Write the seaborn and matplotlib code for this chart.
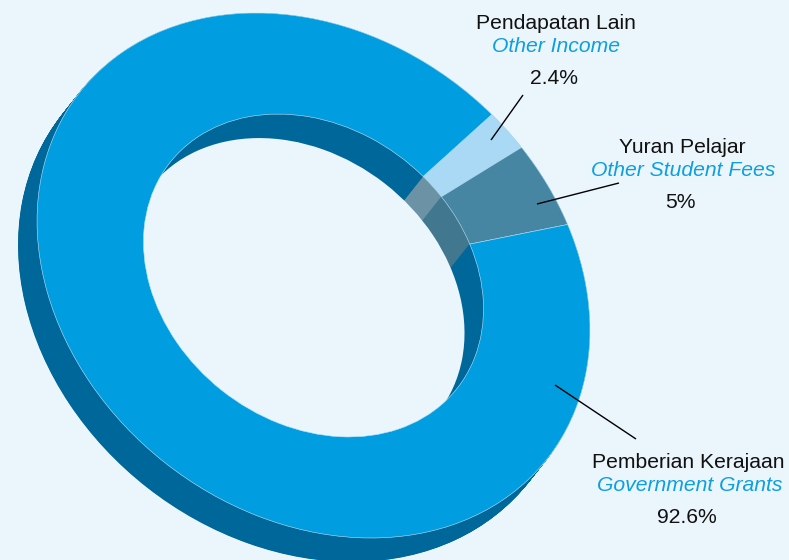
import numpy as np
import matplotlib
matplotlib.use("Agg")
import matplotlib.pyplot as plt
from matplotlib.transforms import Affine2D
from matplotlib.patches import Circle
import seaborn as sns

# data
labels_ms = ["Pendapatan Lain", "Yuran Pelajar", "Pemberian Kerajaan"]
labels_en = ["Other Income", "Other Student Fees", "Government Grants"]
shares = [2.4, 5.0, 92.6]
share_text = ["2.4%", "5%", "92.6%"]

# style
BG = "#EAF5FC"
top_colors = sns.color_palette(["#A9D9F4", "#4686A3", "#009EE0"])
wall_colors = sns.color_palette(["#6C92A6", "#41788F", "#00679A"])
DARK = "#00679A"
INK = "#111111"
ACCENT = "#0E9FDF"
START = -82.0
HOLE = 0.615
CENTER = (313.5, 275.5)
AXES = (297, 239)
TILT = 38.0
DEPTH = (-19, 24)

sns.set_theme(style="white", rc={"figure.facecolor": BG, "axes.facecolor": BG})
plt.rcParams["font.family"] = ["Liberation Sans", "DejaVu Sans"]

fig = plt.figure(figsize=(7.89, 5.60), dpi=100)
ax = fig.add_axes([0, 0, 1, 1])


def placed(t=0.0):
    return (Affine2D().scale(*AXES).rotate_deg(TILT)
            .translate(CENTER[0] + t * DEPTH[0], CENTER[1] + t * DEPTH[1]) + ax.transData)


def ring(colors, values=shares, radius=1.0, t=0.0, width=None, clip=None, edge="none", lw=0.0, z=1):
    props = {"edgecolor": edge, "linewidth": lw}
    if width is not None:
        props["width"] = width
    wedges, _ = ax.pie(values, colors=colors, radius=radius, startangle=START,
                       counterclock=True, wedgeprops=props, frame=True)
    for w in wedges:
        w.set_transform(placed(t))
        w.set_zorder(z)
        if clip is not None:
            w.set_clip_path(clip)
    return wedges


sweep = np.linspace(0, 1, 60)
# outer side wall
for t in sweep[::-1]:
    ring([DARK], values=[1], t=t, z=1)
# inner wall seen through the hole
hole_clip = Circle((0, 0), HOLE, transform=placed())
for t in sweep:
    ring(wall_colors, radius=HOLE, t=t, clip=hole_clip, z=2)
# see-through part of the hole
ring([BG], values=[1], radius=HOLE, t=1.0, clip=hole_clip, z=3)
# top face
ring(top_colors, width=1 - HOLE, edge="#BFE3F5", lw=0.4, z=4)

# leader lines
leaders = [((523, 95), (491, 140)), ((619, 183), (537, 204)), ((636, 439), (555, 385))]
for a, b in leaders:
    ax.plot([a[0], b[0]], [a[1], b[1]], color="black", lw=1.0, zorder=5, solid_capstyle="butt")

# labels
ms_pos = [(555.5, 29), (682, 153), (688.5, 468)]
en_pos = [(556.5, 52), (683, 176), (690, 491)]
val_pos = [(554, 84), (680.5, 208), (687, 523)]
FS = 15.2
for i in range(3):
    ax.text(*ms_pos[i], labels_ms[i], ha="center", va="baseline", fontsize=FS, color=INK, zorder=6)
    ax.text(*en_pos[i], labels_en[i], ha="center", va="baseline", fontsize=FS, color=ACCENT,
            style="italic", zorder=6)
    ax.text(*val_pos[i], share_text[i], ha="center", va="baseline", fontsize=FS, color=INK, zorder=6)

ax.set_xlim(0, 789)
ax.set_ylim(560, 0)
ax.set_axis_off()
fig.savefig("out.png", dpi=100, facecolor=BG)
